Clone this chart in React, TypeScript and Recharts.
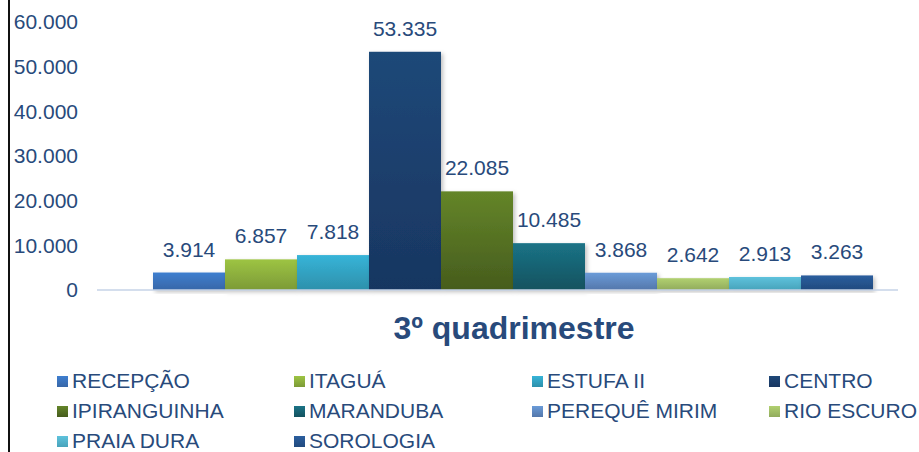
import React from "react";
import { BarChart, Bar, XAxis, YAxis, LabelList } from "recharts";

// unidades e totais do 3º quadrimestre
const UNIDADES = [
  "RECEPÇÃO",
  "ITAGUÁ",
  "ESTUFA II",
  "CENTRO",
  "IPIRANGUINHA",
  "MARANDUBA",
  "PEREQUÊ MIRIM",
  "RIO ESCURO",
  "PRAIA DURA",
  "SOROLOGIA",
];
const TOTAIS = [3914, 6857, 7818, 53335, 22085, 10485, 3868, 2642, 2913, 3263];
const PERIODO = "3º quadrimestre";
const Y_TICKS = [0, 10000, 20000, 30000, 40000, 50000, 60000];

// topo / base do degradê de cada barra
const CORES: [string, string][] = [
  ["#3e7ecf", "#3867a8"],
  ["#9dc443", "#7c9a37"],
  ["#37b4d8", "#2d90ab"],
  ["#1f4878", "#183661"],
  ["#648529", "#465c1d"],
  ["#1b7386", "#13525f"],
  ["#6a9bd8", "#5477ab"],
  ["#b1d070", "#91ab5d"],
  ["#5ec2dc", "#48a3bb"],
  ["#2b5e9e", "#214a7e"],
];

const TEXTO = "#284a7b";
const FONTE = "'Liberation Sans', Arial, sans-serif";

const fmt = (v: number) =>
  String(Math.round(v)).replace(/\B(?=(\d{3})+(?!\d))/g, ".");

const linha: Record<string, string | number> = { name: PERIODO };
UNIDADES.forEach((u, i) => {
  linha[u] = TOTAIS[i];
});
const data = [linha];

function Legenda() {
  return (
    <div
      style={{
        position: "absolute",
        left: 57,
        top: 369,
        width: 870,
        display: "grid",
        gridTemplateColumns: "237px 238px 237px 158px",
        rowGap: 6,
        fontFamily: FONTE,
        fontSize: 21,
        color: TEXTO,
      }}
    >
      {UNIDADES.map((u, i) => (
        <div key={u} style={{ display: "flex", alignItems: "center", height: 24, whiteSpace: "nowrap" }}>
          <span
            style={{
              width: 11,
              height: 11,
              marginRight: 4,
              background: `linear-gradient(${CORES[i][0]}, ${CORES[i][1]})`,
              flexShrink: 0,
            }}
          />
          {u}
        </div>
      ))}
    </div>
  );
}

export default function App() {
  return (
    <div
      style={{
        position: "absolute",
        left: 0,
        top: 0,
        width: 919,
        height: 452,
        background: "#fff",
        overflow: "hidden",
      }}
    >
      <div style={{ position: "absolute", left: 8, top: 0, width: 2, height: 452, background: "#111" }} />
      <BarChart
        width={919}
        height={452}
        data={data}
        margin={{ top: 22, right: 21, bottom: 82, left: 0 }}
        barGap={0}
        barCategoryGap={23}
      >
        <defs>
          {CORES.map((c, i) => (
            <linearGradient key={i} id={`g${i}`} x1="0" y1="0" x2="0" y2="1">
              <stop offset="0%" stopColor={c[0]} />
              <stop offset="100%" stopColor={c[1]} />
            </linearGradient>
          ))}
          <filter id="sombra" x="-10%" y="-10%" width="130%" height="130%">
            <feDropShadow dx="2" dy="2" stdDeviation="2" floodColor="#000" floodOpacity="0.25" />
          </filter>
        </defs>
        <XAxis
          dataKey="name"
          height={80}
          padding={{ left: 33, right: 0 }}
          tickLine={false}
          tickSize={0}
          tickMargin={26}
          axisLine={{ stroke: "#c6d3e7", strokeWidth: 1.5 }}
          tick={{ fontSize: 32, fontWeight: 700, fill: TEXTO, fontFamily: FONTE }}
        />
        <YAxis
          width={97}
          domain={[0, 60000]}
          ticks={Y_TICKS}
          tickFormatter={fmt}
          axisLine={false}
          tickLine={false}
          tickSize={0}
          tickMargin={19}
          tick={{ fontSize: 21, fill: TEXTO, fontFamily: FONTE }}
        />
        {UNIDADES.map((u, i) => (
          <Bar
            key={u}
            dataKey={u}
            isAnimationActive={false}
            fill={`url(#g${i})`}
            shape={(p: any) => (
              <rect x={p.x} y={p.y} width={p.width} height={p.height} fill={`url(#g${i})`} filter="url(#sombra)" />
            )}
          >
            <LabelList
              dataKey={u}
              position="top"
              offset={16}
              formatter={(v: any) => fmt(Number(v))}
              style={{ fontSize: 21, fill: TEXTO, fontFamily: FONTE }}
            />
          </Bar>
        ))}
      </BarChart>
      <Legenda />
    </div>
  );
}
